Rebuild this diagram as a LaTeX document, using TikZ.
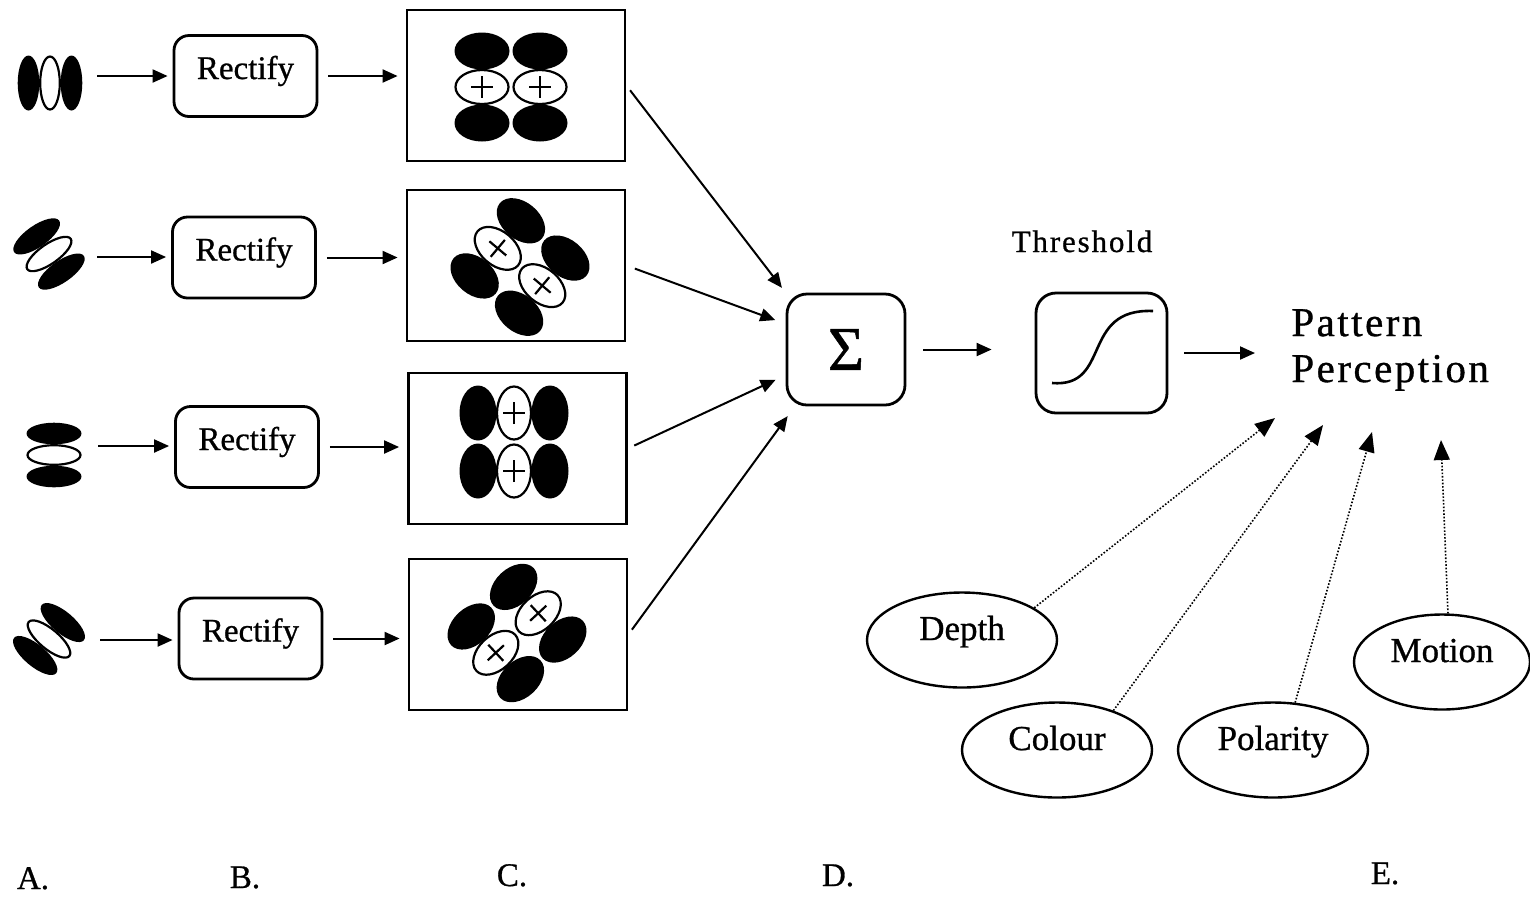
\documentclass[tikz,border=0pt]{standalone}
\usepackage{fontspec}
\setmainfont[FakeBold=0.8]{Liberation Serif}
\newfontfamily\spacedfont[LetterSpace=6,FakeBold=0.8]{Liberation Serif}
\usetikzlibrary{arrows.meta,shapes.geometric}

% three stacked ellipses (black / white / black) along the local y axis
\newcommand\stackicon{%
  \draw[fill=white,line width=1.1pt] (0,0) ellipse (26.5 and 9.8);
  \fill (0,-21.5) ellipse (27.5 and 10.8);
  \fill (0,21.5) ellipse (27.5 and 10.8);}

% two side-by-side columns of black / white(+) / black ellipses
\newcommand\quadcell{%
  \foreach \cx in {-29,29}{%
    \fill (\cx,-36) ellipse (27.5 and 18.5);
    \fill (\cx,36) ellipse (27.5 and 18.5);
    \draw[fill=white,line width=1.1pt] (\cx,0) ellipse (26.5 and 17);
    \draw[line width=1.1pt] (\cx-11,0) -- (\cx+11,0) (\cx,-11) -- (\cx,11);
  }}

\begin{document}
\begin{tikzpicture}[x=0.5pt,y=-0.5pt,
  arr/.style={line width=1pt,-{Triangle[length=7.5pt,width=6.5pt]}},
  dotarr/.style={line width=0.8pt,dash pattern=on 0.8pt off 0.9pt,
                 -{Triangle[length=10pt,width=8pt]}},
  rectbox/.style={draw,line width=1.4pt,rounded corners=7.5pt,
                  minimum width=71.5pt,minimum height=40.5pt,inner sep=0pt,
                  font=\fontsize{16.5}{18}\selectfont,text height=11pt,text depth=8pt},
  filterbox/.style={draw,line width=1.4pt,minimum width=109pt,minimum height=75.5pt,inner sep=0pt},
  opbox/.style={draw,line width=1.4pt,rounded corners=10pt,inner sep=0pt},
  cue/.style={draw,ellipse,line width=1.2pt,minimum width=95pt,minimum height=47.5pt,
              inner sep=0pt,font=\fontsize{17.5}{19}\selectfont,text height=8pt,text depth=8pt},
  stagelabel/.style={anchor=base,inner sep=0pt,font=\fontsize{16.5}{18}\selectfont}
]
\path[use as bounding box] (0,0) rectangle (1530,896);

% ---- column A: oriented input filters ----
\begin{scope}[shift={(50,83)},rotate=90] \stackicon \end{scope}
\begin{scope}[shift={(49,254)},rotate=35] \stackicon \end{scope}
\begin{scope}[shift={(54,455)}] \stackicon \end{scope}
\begin{scope}[shift={(49,639)},rotate=-40] \stackicon \end{scope}

\coordinate (a1) at (97,76);
\coordinate (a2) at (97,257);
\coordinate (a3) at (98,446);
\coordinate (a4) at (100,640);

% ---- column B: rectification ----
\node[rectbox] (b1) at (245.5,76) {Rectify};
\node[rectbox] (b2) at (244,257.5) {Rectify};
\node[rectbox] (b3) at (247,447) {Rectify};
\node[rectbox] (b4) at (250.5,638.5) {Rectify};

% ---- column C: second-stage filters ----
\node[filterbox] (c1) at (516,85.5) {};
\node[filterbox] (c2) at (516,265.5) {};
\node[filterbox] (c3) at (517.5,448.5) {};
\node[filterbox] (c4) at (518,634.5) {};

\begin{scope}[shift={(511,87)}] \quadcell \end{scope}
\begin{scope}[shift={(520,267)},rotate=-40] \quadcell \end{scope}
\begin{scope}[shift={(514,442)},rotate=90] \quadcell \end{scope}
\begin{scope}[shift={(517,633)},rotate=43] \quadcell \end{scope}

\foreach \i in {1,...,4}{
  \draw[arr,shorten >=2.5pt] (a\i) -- (a\i -| b\i.west);
  \draw[arr,shorten <=5pt,shorten >=4pt] (b\i.east) -- (b\i.east -| c\i.west);
}

% ---- column D: summation ----
\node[opbox,minimum width=59pt,minimum height=55.5pt,font=\fontsize{31}{33}\selectfont]
  (sig) at (846,349.5) {Σ};

\draw[arr,shorten <=3pt,shorten >=3pt] (c1.east) -- (sig.north west);
\draw[arr,shorten <=4.5pt,shorten >=5.5pt] (c2.east) -- (sig.157);
\draw[arr,shorten <=3.5pt,shorten >=5.5pt] (c3.east) -- (sig.203);
\draw[arr,shorten <=3pt,shorten >=6pt] (c4.east) -- (sig.228);

% ---- threshold ----
\node[opbox,minimum width=65.5pt,minimum height=60pt] (thr) at (1101.5,353) {};
\draw[line width=1.3pt] (1052,383) .. controls (1112,388) and (1080,308) .. (1153,311);
\node[anchor=base,inner sep=0pt,font=\spacedfont\fontsize{15.5}{17}\selectfont]
  (thlabel) at (1082,252) {Threshold};

\draw[arr,shorten <=8.5pt,shorten >=21.5pt] (sig.east) -- (thr.west |- sig.east);

% ---- column E: percept and cues ----
\node[anchor=west,align=left,inner sep=0pt,
      font=\spacedfont\fontsize{20.5}{23}\selectfont] (pp) at (1291,350)
  {Pattern\\Perception};
\draw[arr,shorten <=8pt,shorten >=18pt] (thr.east) -- (thr.east -| pp.west);

\node[cue] (depth) at (962,640) {Depth};
\node[cue] (colour) at (1057,750) {Colour};
\node[cue] (polarity) at (1273,750) {Polarity};
\node[cue,minimum width=88pt] (motion) at (1442,662) {Motion};

\coordinate (t1) at (1275,418);
\coordinate (t2) at (1323,425);
\coordinate (t3) at (1372,432);
\coordinate (t4) at (1441,440);

\draw[dotarr] (depth.24) -- (t1);
\draw[dotarr] (colour.35) -- (t2);
\draw[dotarr] (polarity.65) -- (t3);
\draw[dotarr] (motion.83) -- (t4);

% ---- stage labels ----
\node[stagelabel] (labA) at (33,889) {A.};
\node[stagelabel] (labB) at (245,888) {B.};
\node[stagelabel] (labC) at (512,886) {C.};
\node[stagelabel] (labD) at (838,886) {D.};
\node[stagelabel] (labE) at (1385,884) {E.};
\end{tikzpicture}
\end{document}
